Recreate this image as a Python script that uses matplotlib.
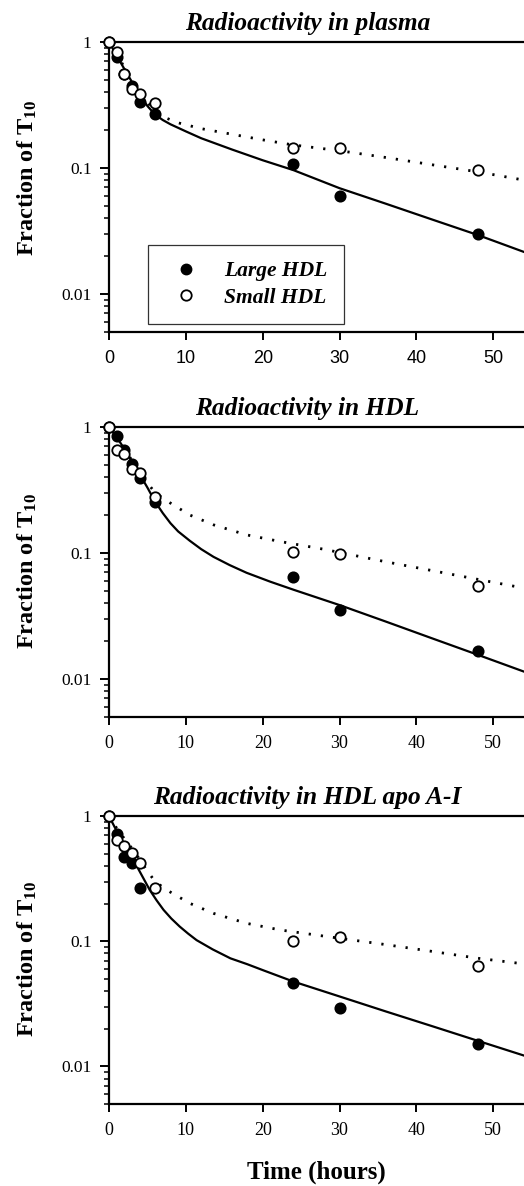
import matplotlib
matplotlib.use('Agg')
import matplotlib.pyplot as plt
from matplotlib.ticker import LogLocator, NullFormatter, FixedLocator, FixedFormatter
from matplotlib.lines import Line2D

plt.rcParams['mathtext.fontset'] = 'custom'
plt.rcParams['mathtext.rm'] = 'Liberation Serif:bold'
plt.rcParams['mathtext.bf'] = 'Liberation Serif:bold'
plt.rcParams['mathtext.it'] = 'Liberation Serif:bold:italic'

titles = ['Radioactivity in plasma', 'Radioactivity in HDL', 'Radioactivity in HDL apo A-I']

# measured points (fraction of T10)
t_pts = [0, 1, 2, 3, 4, 6, 24, 30, 48]
plasma_large = [1.0, 0.76, 0.56, 0.45, 0.334, 0.267, 0.108, 0.060, 0.030]
plasma_small = [1.0, 0.84, 0.556, 0.42, 0.383, 0.325, 0.144, 0.144, 0.097]
hdl_large = [1.0, 0.84, 0.656, 0.506, 0.392, 0.255, 0.064, 0.0349, 0.0167]
hdl_small = [1.0, 0.652, 0.612, 0.464, 0.434, 0.277, 0.102, 0.0977, 0.0547]
t_apo_large = [0, 1, 2, 3, 4, 24, 30, 48]
apo_large = [1.0, 0.714, 0.468, 0.419, 0.265, 0.0462, 0.0292, 0.0151]
apo_small = [1.0, 0.643, 0.576, 0.503, 0.424, 0.265, 0.101, 0.1077, 0.0639]

# fitted curves
plasma_large_fit_t = [0, 1, 2, 3, 4, 5, 6, 7, 8, 10, 12, 16, 20, 24, 30, 36, 42, 48, 54]
plasma_large_fit = [1.0, 0.78, 0.61, 0.48, 0.38, 0.31, 0.265, 0.24, 0.222, 0.195, 0.172,
                    0.14, 0.115, 0.096, 0.069, 0.052, 0.039, 0.0293, 0.0215]
plasma_small_fit_t = [0, 1, 2, 3, 4, 5, 6, 7, 9, 12, 16, 20, 24, 30, 36, 42, 48, 54]
plasma_small_fit = [1.0, 0.80, 0.63, 0.5, 0.40, 0.33, 0.285, 0.255, 0.228, 0.205, 0.185,
                    0.167, 0.152, 0.137, 0.121, 0.106, 0.093, 0.080]

hdl_large_fit_t = [0, 1, 2, 3, 4, 5, 6, 7, 8, 9, 10.5, 12, 13.6, 15.7, 17.9, 21, 24, 30,
                   36, 42, 48, 54]
hdl_large_fit = [1.0, 0.83, 0.67, 0.53, 0.42, 0.33, 0.255, 0.207, 0.172, 0.148, 0.125,
                 0.107, 0.093, 0.080, 0.0695, 0.059, 0.051, 0.0385, 0.0285, 0.021, 0.0155,
                 0.0114]
hdl_small_fit_t = [0, 1, 2, 3, 4, 5, 6, 7.7, 10.5, 13.6, 17.9, 22.3, 27.9, 36, 42, 48, 54]
hdl_small_fit = [1.0, 0.82, 0.67, 0.54, 0.44, 0.36, 0.3, 0.255, 0.2, 0.167, 0.139,
                 0.123, 0.107, 0.085, 0.0724, 0.0616, 0.0525]

apo_large_fit_t = [0, 1, 2, 3, 3.6, 5.3, 6.2, 7.1, 8.1, 9.2, 10.3, 11.4, 13.5, 15.8, 18,
                   20.1, 24, 30, 36, 42, 48, 54]
apo_large_fit = [1.0, 0.76, 0.59, 0.47, 0.40, 0.257, 0.212, 0.178, 0.152, 0.131, 0.115,
                 0.102, 0.086, 0.073, 0.0655, 0.0585, 0.0476, 0.0362, 0.0275, 0.021,
                 0.016, 0.0122]
apo_small_fit_t = [0, 1, 2, 3, 4, 4.9, 6, 7.5, 10.5, 13.6, 17.9, 22.3, 27.9, 36, 42, 48, 54]
apo_small_fit = [1.0, 0.8, 0.66, 0.55, 0.45, 0.37, 0.3, 0.257, 0.201, 0.167, 0.139,
                 0.123, 0.110, 0.094, 0.083, 0.0731, 0.0659]

x_ticks = [0, 10, 20, 30, 40, 50]
y_ticks = [1, 0.1, 0.01]
y_ticklabels = ['1', '0.1', '0.01']

panels = [
    (t_pts, plasma_large, t_pts, plasma_small, plasma_large_fit_t, plasma_large_fit,
     plasma_small_fit_t, plasma_small_fit),
    (t_pts, hdl_large, t_pts, hdl_small, hdl_large_fit_t, hdl_large_fit,
     hdl_small_fit_t, hdl_small_fit),
    (t_apo_large, apo_large, t_pts, apo_small, apo_large_fit_t, apo_large_fit,
     apo_small_fit_t, apo_small_fit),
]

# axes rectangles in figure fraction (left, bottom, width, height)
rects = [[0.208, 0.7203, 0.792, 0.2443],
         [0.208, 0.3957, 0.792, 0.2443],
         [0.208, 0.0691, 0.792, 0.2428]]
ylabel_y = [0.53, 0.503, 0.503]

serif = 'Liberation Serif'
fig = plt.figure(figsize=(5.24, 11.86), dpi=100)

for i, (tl, yl, ts, ys, tlf, ylf, tsf, ysf) in enumerate(panels):
    ax = fig.add_axes(rects[i])
    ax.set_yscale('log')
    ax.set_xlim(0, 54)
    ax.set_ylim(0.005, 1)

    ax.plot(tlf, ylf, color='black', lw=1.6, zorder=2)
    ax.plot(tsf, ysf, color='black', lw=2.0, linestyle=(0, (0.8, 3.6)), zorder=2)
    ax.plot(tl, yl, 'o', ms=7.5, mfc='black', mec='black', mew=1.2, zorder=3, clip_on=False)
    ax.plot(ts, ys, 'o', ms=7.5, mfc='white', mec='black', mew=1.3, zorder=4, clip_on=False)

    for s in ['left', 'bottom', 'top']:
        ax.spines[s].set_linewidth(1.6)
    ax.spines['right'].set_visible(False)

    ax.yaxis.set_major_locator(FixedLocator(y_ticks))
    ax.yaxis.set_major_formatter(FixedFormatter(y_ticklabels))
    ax.yaxis.set_minor_locator(LogLocator(base=10, subs=range(2, 10), numticks=20))
    ax.yaxis.set_minor_formatter(NullFormatter())
    ax.set_xticks(x_ticks)
    ax.tick_params(axis='y', which='major', direction='out', length=6.5, width=1.4, pad=6,
                   labelsize=12.5)
    ax.tick_params(axis='y', which='minor', direction='out', length=3.5, width=1.1)
    ax.tick_params(axis='x', which='major', direction='out', length=6, width=1.4, pad=7,
                   labelsize=13)
    ax.tick_params(axis='x', which='minor', bottom=False)
    for lab in ax.get_yticklabels():
        lab.set_fontfamily(serif)
    for lab in ax.get_xticklabels():
        lab.set_fontfamily('Liberation Sans' if i == 0 else serif)

    ax.text(0.478, 1.025, titles[i], transform=ax.transAxes, ha='center', va='bottom',
            fontsize=18.3, fontweight='bold', fontstyle='italic', family=serif)

    ax.set_ylabel('Fraction of T$_{10}$', fontsize=17.5, fontweight='bold', family=serif)
    ax.yaxis.set_label_coords(-0.168, ylabel_y[i])

    if i == 0:
        handles = [Line2D([], [], marker='o', ls='none', ms=7.5, mfc='black', mec='black'),
                   Line2D([], [], marker='o', ls='none', ms=7.5, mfc='white', mec='black',
                          mew=1.3)]
        leg = ax.legend(handles, ['Large HDL', 'Small HDL'], loc='upper left',
                        bbox_to_anchor=(0.094, 0.299), frameon=True, fancybox=False,
                        borderpad=0.75, handlelength=2.0, handletextpad=0.8,
                        labelspacing=0.3, borderaxespad=0,
                        prop={'family': serif, 'weight': 'bold', 'style': 'italic',
                              'size': 15.5})
        leg.get_frame().set_edgecolor('black')
        leg.get_frame().set_linewidth(0.9)

fig.text(316.5 / 524, 0.006, 'Time (hours)', ha='center', va='baseline', fontsize=18,
         fontweight='bold', family=serif)

fig.savefig('out.png', dpi=100)
